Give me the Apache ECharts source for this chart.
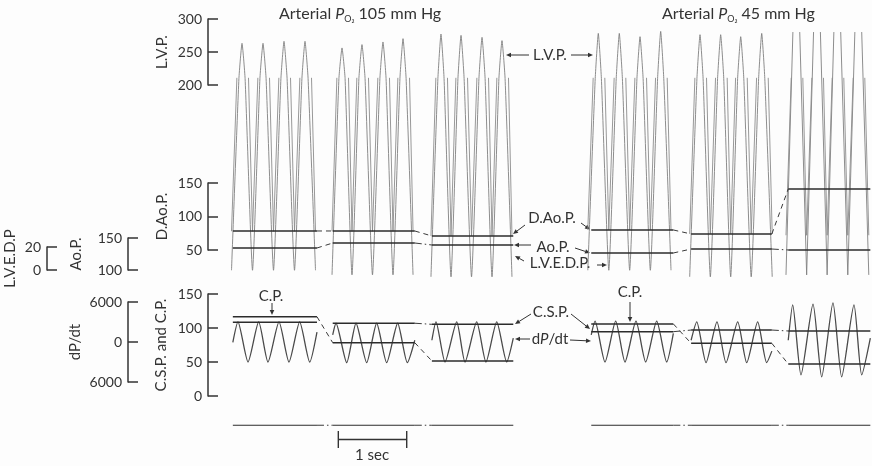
<!DOCTYPE html>
<html>
<head>
<meta charset="utf-8">
<script src="https://cdn.jsdelivr.net/npm/echarts@6/dist/echarts.min.js"></script>
<style>
  html, body { margin: 0; padding: 0; background: #fdfdfd; }
  #chart { width: 872px; height: 466px; }
</style>
</head>
<body>
<div id="chart"></div>
<script>
// time is in seconds (the 1 sec bar), pressures in mmHg on each trace's own scale
const segStart = [0.10, 1.56, 3.01, 5.34, 6.80, 8.22];
const segEnd = [1.33, 2.76, 4.20, 6.54, 7.98, 9.42];
const gaps = [[0, 1], [1, 2], [3, 4], [4, 5]];

// L.V.P. beats: time of each peak and its height; last run goes off scale
const lvpBeatT = [
  [0.234, 0.541, 0.848, 1.155],
  [1.696, 1.988, 2.295, 2.588],
  [3.143, 3.436, 3.743, 4.035],
  [5.443, 5.750, 6.053, 6.355],
  [6.930, 7.232, 7.525, 7.832],
  [8.338, 8.640, 8.937, 9.244]
];
const lvpPeak = [
  [263, 263, 266, 266],
  [256, 261, 265, 270],
  [277, 275, 272, 267],
  [278, 278, 273, 281],
  [276, 276, 273, 278],
  [280, 280, 280, 280]
];
const lvpTrough = [-80, -87, -90, -80, -90, -87];
const lvpShoulder = 210;

// aortic pulse: strokes leave the top of the record and dip between beats
const aoTop = 307;
const aoDip = [78, 78, 71, 80, 74, 72];

// mean levels drawn across each run
const daoLevel = [78.4, 78.4, 70.9, 79.9, 73.9, 141];
const aoLevel = [134.5, 142.3, 139.2, 126.7, 132.9, 131.4];
const cpLevel = [116.6, 78.4, 51.5, 106, 77.5, 47];
const cspLevel = [108.4, 107, 105.4, 94.6, 97, 95.6];
const baseLevel = -43;

// coronary trace
const csStart = [79, 90, 82, 90, 82, 82];
const csEnd = [94, 82, 85, 92, 66, 85];
const csPeakT = [
  [0.175, 0.478, 0.775, 1.077],
  [1.608, 1.901, 2.203, 2.510],
  [3.070, 3.373, 3.665, 3.958],
  [5.395, 5.697, 5.994, 6.297],
  [6.882, 7.178, 7.481, 7.773],
  [8.285, 8.582, 8.874, 9.181]
];
const csPeak = [
  [109, 109, 109, 109],
  [107, 107, 107, 107],
  [109, 109, 109, 109],
  [110, 110, 110, 110],
  [109, 109, 109, 109],
  [134, 135, 137, 134]
];
const csTroughT = [
  [0.322, 0.614, 0.921, 1.224],
  [1.765, 2.057, 2.349, 2.651],
  [3.202, 3.494, 3.801, 4.104],
  [5.541, 5.833, 6.136, 6.443],
  [7.018, 7.310, 7.613, 7.905],
  [8.406, 8.709, 9.001, 9.294]
];
const csTrough = [
  [50, 50, 50, 50],
  [49, 49, 49, 49],
  [50, 50, 50, 50],
  [50, 50, 50, 50],
  [49, 49, 49, 49],
  [31, 28, 28, 31]
];

// joins between runs: 'dash' or 'dot' (dash-dot), null = none
const daoJoin = ['dash', 'dash', 'dash', 'dash'];
const aoJoin = ['dash', 'dot', 'dash', 'dot'];
const cpJoin = ['dash', 'dash', 'dash', 'dash'];
const cspJoin = [null, 'dot', 'dot', 'dot'];
const baseJoin = ['dot', 'dot', 'dot', 'dot'];

const scaleBarT = [1.642, 2.642];
const scaleBarLevel = -64;

const INK = '#333';
const FONT = 'Lato';
const DASH = { dash: [5, 4], dot: [7, 3, 1.5, 3] };

var chart = echarts.init(document.getElementById('chart'));
var series = [];

function line(data, xi, yi, color, width, type, smooth, z) {
  series.push({
    type: 'line', xAxisIndex: xi, yAxisIndex: yi, data: data,
    symbol: 'none', silent: true, animation: false, connectNulls: false,
    smooth: smooth || false, z: z || 2,
    lineStyle: { color: color, width: width, type: type || 'solid' }
  });
}

function mids(ts) {
  var m = [ts[0] - (ts[1] - ts[0]) / 2];
  for (var k = 0; k < ts.length - 1; k++) m.push((ts[k] + ts[k + 1]) / 2);
  m.push(ts[ts.length - 1] + (ts[ts.length - 1] - ts[ts.length - 2]) / 2);
  return m;
}

// upper panel traces
lvpBeatT.forEach(function (ts, s) {
  var m = mids(ts);
  var lv = [], ao = [];
  ts.forEach(function (t, k) {
    lv.push([m[k], lvpTrough[s]]);
    if (s === 5) {
      lv.push([t - 0.05, lvpPeak[s][k]], [t, '-'], [t + 0.05, lvpPeak[s][k]]);
    } else {
      lv.push([t - 0.045, lvpShoulder], [t, lvpPeak[s][k]], [t + 0.045, lvpShoulder]);
    }
    ao.push([m[k], aoDip[s]], [t - 0.075, aoTop], [t, '-'], [t + 0.095, aoTop]);
  });
  lv.push([m[m.length - 1], lvpTrough[s]]);
  ao.push([m[m.length - 1], aoDip[s]]);
  line(lv, 0, 1, '#808080', 0.9, null, s === 5 ? false : 0.15);
  line(ao, 0, 0, '#8c8c8c', 0.9);
});

// lower panel trace
csPeakT.forEach(function (ts, s) {
  var d = [[segStart[s], csStart[s]]];
  ts.forEach(function (t, k) {
    d.push([t, csPeak[s][k]], [csTroughT[s][k], csTrough[s][k]]);
  });
  d.push([segEnd[s], csEnd[s]]);
  line(d, 1, 3, '#4a4a4a', 1.3, null, 0.22);
});

function levels(vals, joins, xi, yi, width) {
  var d = [];
  vals.forEach(function (v, s) {
    d.push([segStart[s], v], [segEnd[s], v], [segEnd[s], '-']);
  });
  line(d, xi, yi, '#2c2c2c', width, null, false, 4);
  gaps.forEach(function (g, i) {
    if (!joins[i]) return;
    line([[segEnd[g[0]], vals[g[0]]], [segStart[g[1]], vals[g[1]]]], xi, yi, '#3a3a3a', 1, DASH[joins[i]], false, 4);
  });
}
levels(daoLevel, daoJoin, 0, 0, 1.5);
levels(aoLevel, aoJoin, 0, 2, 1.5);
levels(cpLevel, cpJoin, 1, 3, 1.5);
levels(cspLevel, cspJoin, 1, 3, 1.5);
levels(segStart.map(function () { return baseLevel; }), baseJoin, 1, 3, 1.2);

// 1 sec bar
series.push({
  type: 'line', xAxisIndex: 1, yAxisIndex: 3, silent: true, animation: false,
  data: scaleBarT.map(function (t) { return [t, scaleBarLevel]; }),
  symbol: 'rect', symbolSize: [1.4, 17], showSymbol: true,
  itemStyle: { color: INK }, lineStyle: { color: INK, width: 1.3 }
});

// scale brackets on the left
var brackets = [
  { name: 'L.V.P.', min: 200, max: 300, step: 50, x: 208, top: 19, bottom: 85, gap: 38 },
  { name: 'D.Ao.P.', min: 50, max: 150, step: 50, x: 208, top: 183, bottom: 250, gap: 38 },
  { name: 'C.S.P. and C.P.', min: 0, max: 150, step: 50, x: 208, top: 294, bottom: 396, gap: 39 },
  { name: 'L.V.E.D.P', min: 0, max: 20, step: 20, x: 47, top: 247, bottom: 270, gap: 29 },
  { name: 'Ao.P.', min: 100, max: 150, step: 50, x: 128, top: 238, bottom: 270, gap: 44 },
  { name: 'dP/dt', min: -6000, max: 6000, step: 6000, x: 128, top: 302, bottom: 382, gap: 45 }
];

var grids = [
  { left: 226, width: 646, top: 15.5, height: 268 },
  { left: 226, width: 646, top: 294, height: 156.4 }
];
var xAxes = [
  { gridIndex: 0, type: 'value', min: 0, max: 9.4444, show: false },
  { gridIndex: 1, type: 'value', min: 0, max: 9.4444, show: false }
];
var yAxes = [
  { gridIndex: 0, type: 'value', min: 0, max: 400, show: false },
  { gridIndex: 0, type: 'value', min: -100, max: 305, show: false },
  { gridIndex: 0, type: 'value', min: 79, max: 498, show: false },
  { gridIndex: 1, type: 'value', min: -80, max: 150, show: false }
];
brackets.forEach(function (b, i) {
  var gi = grids.length;
  grids.push({ left: b.x, width: 1, top: b.top, height: b.bottom - b.top });
  xAxes.push({ gridIndex: gi, type: 'value', show: false });
  yAxes.push({
    gridIndex: gi, type: 'value', position: 'left', min: b.min, max: b.max, interval: b.step,
    name: b.name, nameLocation: 'middle', nameGap: b.gap,
    nameTextStyle: { fontFamily: FONT, fontSize: 15, color: INK },
    axisLine: { show: true, lineStyle: { color: INK, width: 1.5 } },
    axisTick: { show: true, inside: true, length: 10, lineStyle: { color: INK, width: 1.5 } },
    axisLabel: { margin: 6, fontFamily: FONT, fontSize: 14, color: INK,
      formatter: function (v) { return String(Math.abs(v)); } },
    splitLine: { show: false }
  });
});
grids.forEach(function (g) { g.containLabel = false; g.outerBoundsMode = 'none'; });

// annotations
var graphics = [];
function txt(str, x, y, size, rich) {
  var st = { text: str, x: 0, y: 0, fill: INK, font: (size || 15) + 'px ' + FONT,
    textAlign: 'center', textVerticalAlign: 'middle', align: 'center', verticalAlign: 'middle' };
  if (rich) st.rich = rich;
  graphics.push({ type: 'text', x: x, y: y, silent: true, style: st });
}
function arrow(x1, y1, x2, y2) {
  var a = Math.atan2(y2 - y1, x2 - x1), h = 5, w = 2.3;
  var bx = x2 - h * Math.cos(a), by = y2 - h * Math.sin(a);
  graphics.push({ type: 'line', silent: true, shape: { x1: x1, y1: y1, x2: bx, y2: by },
    style: { stroke: INK, lineWidth: 1 } });
  graphics.push({ type: 'polygon', silent: true,
    shape: { points: [[x2, y2], [bx - w * Math.sin(a), by + w * Math.cos(a)], [bx + w * Math.sin(a), by - w * Math.cos(a)]] },
    style: { fill: INK } });
}
var richPO2 = {
  a: { fontSize: 16, fontFamily: FONT, fill: INK, color: INK, lineHeight: 20 },
  p: { fontSize: 16, fontFamily: FONT, fontStyle: 'italic', fill: INK, color: INK, lineHeight: 20 },
  s: { fontSize: 9, fontFamily: FONT, fill: INK, color: INK, lineHeight: 9, verticalAlign: 'bottom' }
};
function title(str, x) {
  graphics.push({ type: 'text', x: x, y: 14, silent: true,
    style: { text: str, rich: richPO2, textAlign: 'left', align: 'left',
      textVerticalAlign: 'middle', verticalAlign: 'middle', fill: INK } });
}
title('{a|Arterial }{p|P}{s|O₂}{a| 105 mm Hg}', 279);
title('{a|Arterial }{p|P}{s|O₂}{a| 45 mm Hg}', 662);

txt('L.V.P.', 550, 55); arrow(529, 55, 506, 55); arrow(571, 55, 593, 55);
txt('D.Ao.P.', 552, 218); arrow(525, 225, 513, 234); arrow(581, 223, 590, 229.5);
txt('Ao.P.', 553, 247); arrow(531, 245, 514, 245); arrow(575, 248, 590, 253);
txt('L.V.E.D.P.', 560, 263); arrow(524, 261, 515, 256); arrow(597, 265, 607, 265);
txt('C.P.', 271, 296); arrow(272, 303, 272, 315);
txt('C.P.', 630, 292); arrow(630, 302, 630, 322);
txt('C.S.P.', 551, 312); arrow(531, 314, 515, 324); arrow(571, 314, 590, 329);
txt('{a|d}{p|P}{a|/dt}', 550, 339, 15, {
  a: { fontSize: 15, fontFamily: FONT, fill: INK, color: INK },
  p: { fontSize: 15, fontFamily: FONT, fontStyle: 'italic', fill: INK, color: INK }
});
arrow(530, 339, 515, 339); arrow(570, 340, 591, 341);
txt('1 sec', 372, 455);

chart.setOption({
  backgroundColor: '#fdfdfd',
  animation: false,
  grid: grids,
  xAxis: xAxes,
  yAxis: yAxes,
  series: series,
  graphic: { elements: graphics }
});
</script>
</body>
</html>
